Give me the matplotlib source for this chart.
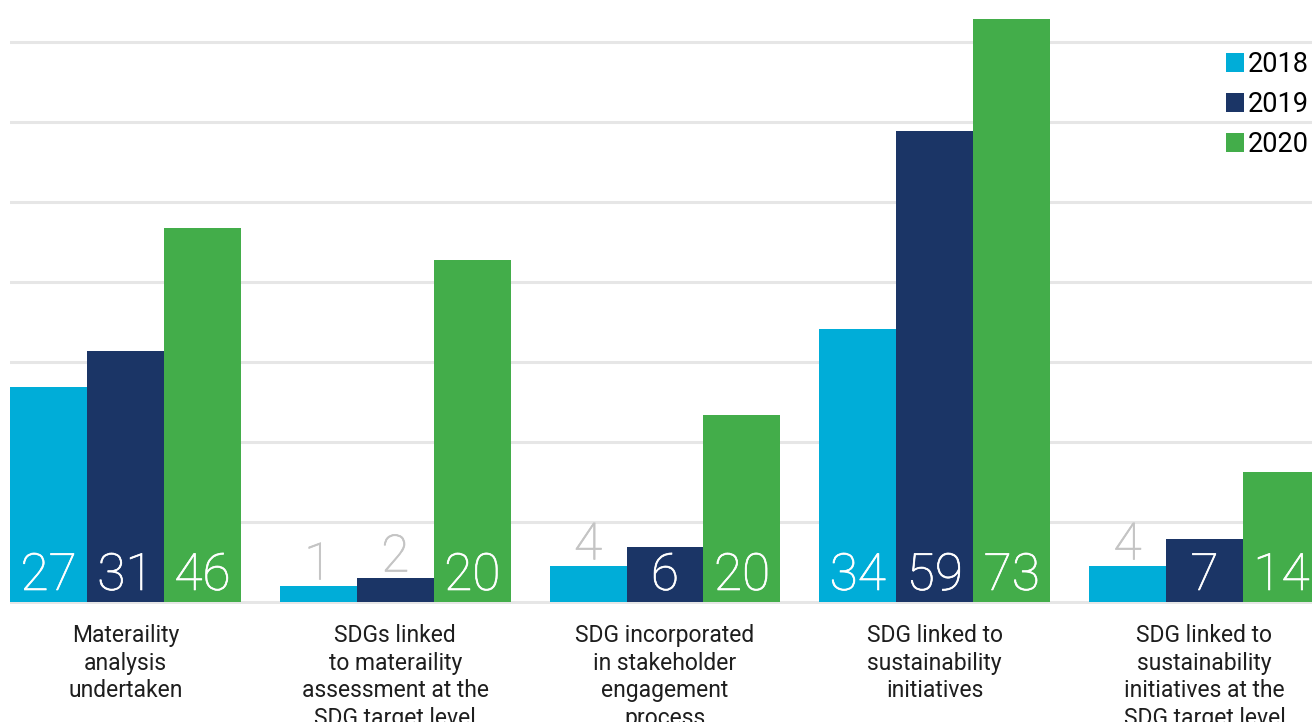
import matplotlib
matplotlib.use("Agg")
import matplotlib.pyplot as plt
from matplotlib.patches import Patch
import matplotlib.patheffects as pe

# ---------------- data ----------------
categories = [
    "Materaility\nanalysis\nundertaken",
    "SDGs linked\nto materaility\nassessment at the\nSDG target level",
    "SDG incorporated\nin stakeholder\nengagement\nprocess",
    "SDG linked to\nsustainability\ninitiatives",
    "SDG linked to\nsustainability\ninitiatives at the\nSDG target level",
]
years = ["2018", "2019", "2020"]

# bar heights as drawn in the chart
heights_2018 = [26.9, 1.9, 4.4, 34.1, 4.4]
heights_2019 = [31.4, 2.9, 6.8, 58.9, 7.8]
heights_2020 = [46.8, 42.8, 23.3, 72.9, 16.2]

# numbers printed on the bars
labels_2018 = [27, 1, 4, 34, 4]
labels_2019 = [31, 2, 6, 59, 7]
labels_2020 = [46, 20, 20, 73, 14]

grid_values = [0, 10, 20, 30, 40, 50, 60, 70]

colors = ["#00ADD8", "#1B3566", "#43AD4A"]

# ---------------- style ----------------
plt.rcParams['font.family'] = ['Roboto', 'DejaVu Sans']

W, H = 1312, 722
fig = plt.figure(figsize=(W / 100, H / 100), dpi=100)

px_per_unit = 7.986      # vertical pixels per value unit
zero_px = 601.5          # y pixel (from top) of value 0
ax_bottom_px = 604
group_px = 269.75        # pixels between group centres
left_px = 10

ax = fig.add_axes([left_px / W, (H - ax_bottom_px) / H, 1 - left_px / W, ax_bottom_px / H])
ax.set_ylim(-(ax_bottom_px - zero_px) / px_per_unit, zero_px / px_per_unit)
xl = -115.5 / group_px
ax.set_xlim(xl, xl + (W - left_px) / group_px)

bw = 77 / group_px
offsets = [-bw, 0, bw]
series_h = [heights_2018, heights_2019, heights_2020]
series_l = [labels_2018, labels_2019, labels_2020]
x = list(range(len(categories)))

for k in range(3):
    xs = [xi + offsets[k] for xi in x]
    ax.bar(xs, series_h[k], width=bw, color=colors[k], zorder=2, linewidth=0)
    for xi, h, lab in zip(xs, series_h[k], series_l[k]):
        if h < 6:
            col = '#C4C4C4'
            t = ax.annotate(str(lab), xy=(xi, h), xytext=(0, 5), textcoords='offset points',
                            ha='center', va='baseline', color=col, fontsize=37,
                            fontweight='light', zorder=3)
        else:
            col = 'white'
            t = ax.annotate(str(lab), xy=(xi, 0), xytext=(0, 8.3), textcoords='offset points',
                            ha='center', va='baseline', color=col, fontsize=37,
                            fontweight='light', zorder=3)
        t.set_path_effects([pe.withStroke(linewidth=0.5, foreground=col)])

# category labels
for xi, cat in zip(x, categories):
    ax.annotate(cat, xy=(xi, 0), xytext=(0, -16.2), textcoords='offset points',
                ha='center', va='top', fontsize=16.5, color='#1E1E1E',
                linespacing=1.26, annotation_clip=False)

ax.set_yticks(grid_values)
ax.set_xticks([])
ax.yaxis.grid(True, color='#E6E6E6', linewidth=2.2)
ax.tick_params(axis='y', length=0, labelleft=False)
ax.set_axisbelow(True)
for s in ax.spines.values():
    s.set_visible(False)

handles = [Patch(facecolor=c, edgecolor='none') for c in colors]
ax.legend(handles, years, loc='upper right', bbox_to_anchor=(1308.5 / W, 1 - 51 / H),
          bbox_transform=fig.transFigure, frameon=False, fontsize=19.5,
          handlelength=0.66, handleheight=0.66, handletextpad=0.12,
          labelspacing=0.48, borderpad=0, borderaxespad=0)

fig.savefig("out.png", dpi=100)
